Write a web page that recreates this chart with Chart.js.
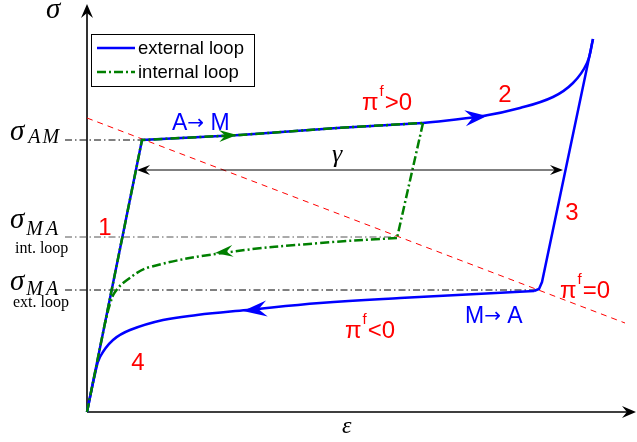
<!DOCTYPE html>
<html>
<head>
<meta charset="utf-8">
<script src="https://cdn.jsdelivr.net/npm/chart.js@4.4.1/dist/chart.umd.min.js"></script>
<style>
  html, body { margin: 0; padding: 0; background: #fff; }
</style>
</head>
<body>
<canvas id="loopChart" width="637" height="442"></canvas>
<script>
// strain (x) / stress (y) in arbitrary units

// elastic loading + A->M plateau, shared by both loops
var loadX = [0, 55, 153, 250, 336];
var loadY = [0, 272, 277, 284, 289];

// external loop
var hardenX = [336, 396, 433, 466, 486, 500, 506];
var hardenY = [289, 296, 304, 315, 329, 349, 373];
var unloadX = [506, 455, 452, 447];
var unloadY = [373, 130, 123, 121];
var returnX = [447, 313, 233, 160, 110, 76, 43, 26, 13, 8, 0];
var returnY = [121, 114, 109, 102, 97, 92, 82, 72, 55, 38, 0];

// internal loop
var dropX = [336, 310];
var dropY = [289, 174];
var innerX = [310, 233, 143, 63, 40, 28, 23, 18];
var innerY = [174, 169, 160, 145, 132, 120, 108, 89];

// pi^f = 0 line
var piZeroX = [0, 538];
var piZeroY = [294, 89];

// transformation stresses and where their guide lines stop
var levelNames = ["AM", "MA_int", "MA_ext"];
var levelY = [272, 175, 122];
var levelEnd = [55, 310, 451];

// gamma span
var gammaY = 242;
var gammaX = [50, 476];

var BLUE = "#0000ff";
var GREEN = "#007f00";
var greenDash = [9, 3, 2, 3];

function pts(xs, ys) {
  return xs.map(function (x, i) { return { x: x, y: ys[i] }; });
}

function line(label, xs, ys, color, width, dash, tension, order) {
  return {
    label: label,
    data: pts(xs, ys),
    showLine: true,
    borderColor: color,
    backgroundColor: color,
    borderWidth: width,
    borderDash: dash || [],
    tension: tension || 0,
    pointRadius: 0,
    clip: false,
    order: order
  };
}

var datasets = [
  line("internal loop", loadX, loadY, GREEN, 2.5, greenDash, 0, 0),
  line("", dropX, dropY, GREEN, 2.5, greenDash, 0, 0),
  line("", innerX, innerY, GREEN, 2.5, greenDash, 0.4, 0),
  line("external loop", loadX, loadY, BLUE, 2.5, null, 0, 1),
  line("", hardenX, hardenY, BLUE, 2.5, null, 0.4, 1),
  line("", unloadX, unloadY, BLUE, 2.5, null, 0, 1),
  line("", returnX, returnY, BLUE, 2.5, null, 0.4, 1),
  line("", piZeroX, piZeroY, "#ff0000", 1, [6, 5], 0, 2)
];
levelY.forEach(function (y, i) {
  var col = levelNames[i] === "MA_int" ? "#555555" : "#000000";
  datasets.push(line("", [-22, levelEnd[i]], [y, y], col, 1, [7, 3, 1.5, 3], 0, 3));
});

function arrowHead(ctx, x, y, ang, len, half, color) {
  ctx.save();
  ctx.translate(x, y);
  ctx.rotate(ang);
  ctx.beginPath();
  ctx.moveTo(0, 0);
  ctx.lineTo(-len, -half);
  ctx.lineTo(-len * 0.65, 0);
  ctx.lineTo(-len, half);
  ctx.closePath();
  ctx.fillStyle = color;
  ctx.fill();
  ctx.restore();
}

// draw a run of text pieces: [text, font, dx, dy]
function runs(ctx, x, y, color, parts) {
  ctx.fillStyle = color;
  ctx.textAlign = "left";
  ctx.textBaseline = "alphabetic";
  var cx = x;
  parts.forEach(function (p) {
    ctx.font = p[1];
    cx += p[2] || 0;
    ctx.fillText(p[0], cx, y + (p[3] || 0));
    cx += ctx.measureText(p[0]).width;
  });
}

var SANS = '"Liberation Sans", Arial, sans-serif';
var SERIF = '"Liberation Serif", "DejaVu Serif", serif';
var ARROW = '"DejaVu Sans", sans-serif';

var decor = {
  id: "decor",
  beforeDatasetsDraw: function (chart) {
    var ctx = chart.ctx, sx = chart.scales.x, sy = chart.scales.y;
    var ox = sx.getPixelForValue(0), oy = sy.getPixelForValue(0);
    var xEnd = sx.getPixelForValue(549), yEnd = sy.getPixelForValue(408);
    ctx.save();
    ctx.strokeStyle = "#000";
    ctx.lineWidth = 1.6;
    ctx.beginPath();
    ctx.moveTo(ox, oy); ctx.lineTo(xEnd - 6, oy);
    ctx.moveTo(ox, oy); ctx.lineTo(ox, yEnd + 6);
    ctx.stroke();
    arrowHead(ctx, xEnd, oy, 0, 14, 6, "#000");
    arrowHead(ctx, ox, yEnd, -Math.PI / 2, 14, 6, "#000");
    ctx.restore();
  },
  afterDatasetsDraw: function (chart) {
    var ctx = chart.ctx, sx = chart.scales.x, sy = chart.scales.y;
    function X(v) { return sx.getPixelForValue(v); }
    function Y(v) { return sy.getPixelForValue(v); }
    ctx.save();

    // flow arrows on the curves: [fromX, fromY, tipX, tipY, colour, len, half]
    [
      [380, 294, 400, 296, BLUE, 22, 8],
      [175, 103, 156, 101, BLUE, 24, 8],
      [130, 276, 150, 277, GREEN, 18, 6],
      [145, 161, 128, 159, GREEN, 18, 6]
    ].forEach(function (a) {
      var ang = Math.atan2(Y(a[3]) - Y(a[1]), X(a[2]) - X(a[0]));
      arrowHead(ctx, X(a[2]), Y(a[3]), ang, a[5], a[6], a[4]);
    });

    // gamma double arrow
    ctx.strokeStyle = "#000";
    ctx.lineWidth = 1;
    ctx.beginPath();
    ctx.moveTo(X(gammaX[0]) + 6, Y(gammaY));
    ctx.lineTo(X(gammaX[1]) - 6, Y(gammaY));
    ctx.stroke();
    arrowHead(ctx, X(gammaX[0]), Y(gammaY), Math.PI, 13, 5, "#000");
    arrowHead(ctx, X(gammaX[1]), Y(gammaY), 0, 13, 5, "#000");
    runs(ctx, X(245), Y(250), "#000", [["\u03b3", "italic 26px " + SERIF]]);

    // axis labels
    runs(ctx, X(-41), Y(394), "#000", [["\u03c3", "italic 29px " + SERIF]]);
    runs(ctx, X(255), Y(-21), "#000", [["\u03b5", "italic 24px " + SERIF]]);

    // stress level labels
    var sig = "italic 29px " + SERIF, sub = "italic 20px " + SERIF, small = "16px " + SERIF;
    runs(ctx, X(-77), Y(272), "#000", [["\u03c3", sig], ["A", sub, 4, 3], ["M", sub, 2, 3]]);
    runs(ctx, X(-77), Y(184), "#000", [["\u03c3", sig], ["M", sub, 2, 7], ["A", sub, 3, 7]]);
    runs(ctx, X(-72), Y(159), "#000", [["int. loop", small]]);
    runs(ctx, X(-77), Y(122), "#000", [["\u03c3", sig], ["M", sub, 2, 5], ["A", sub, 3, 5]]);
    runs(ctx, X(-74), Y(105), "#000", [["ext. loop", small]]);

    // red annotations
    var big = "24px " + SANS, sup = "15px " + SANS;
    ctx.textAlign = "center";
    ctx.textBaseline = "middle";
    ctx.fillStyle = "#ff0000";
    ctx.font = big;
    [["1", 18, 184], ["2", 418, 317], ["3", 485, 199], ["4", 51, 49]].forEach(function (t) {
      ctx.fillText(t[0], X(t[1]), Y(t[2]));
    });
    runs(ctx, X(275), Y(302), "#ff0000", [["\u03c0", big], ["f", sup, 1, -14], [">0", big, 1]]);
    runs(ctx, X(473), Y(114), "#ff0000", [["\u03c0", big], ["f", sup, 1, -14], ["=0", big, 1]]);
    runs(ctx, X(258), Y(74), "#ff0000", [["\u03c0", big], ["f", sup, 1, -14], ["<0", big, 1]]);

    // blue phase labels
    var lab = "23px " + SANS, arr = "20px " + ARROW;
    runs(ctx, X(85), Y(282), BLUE, [["A", lab], ["\u2192", arr, 0, -1], [" M", lab]]);
    runs(ctx, X(378), Y(89), BLUE, [["M", lab], ["\u2192", arr, 0, -1], [" A", lab]]);

    // legend box
    var lx = X(4), ly = Y(378), lw = X(167) - X(4), lh = Y(326) - Y(378);
    ctx.fillStyle = "#fff";
    ctx.fillRect(lx, ly, lw, lh);
    ctx.strokeStyle = "#000";
    ctx.lineWidth = 1;
    ctx.setLineDash([]);
    ctx.strokeRect(lx + 0.5, ly + 0.5, lw, lh);
    var entries = [[chart.data.datasets[3], ly + 14], [chart.data.datasets[0], ly + 38]];
    entries.forEach(function (e) {
      var ds = e[0];
      ctx.strokeStyle = ds.borderColor;
      ctx.lineWidth = 2.5;
      ctx.setLineDash(ds.borderDash);
      ctx.beginPath();
      ctx.moveTo(lx + 6, e[1]);
      ctx.lineTo(lx + 44, e[1]);
      ctx.stroke();
      ctx.setLineDash([]);
      ctx.fillStyle = "#000";
      ctx.font = "18.5px " + SANS;
      ctx.textAlign = "left";
      ctx.textBaseline = "middle";
      ctx.fillText(ds.label, lx + 47, e[1] + 1);
    });
    ctx.restore();
  }
};

var loopChart = new Chart(document.getElementById("loopChart"), {
  type: "scatter",
  data: { datasets: datasets },
  options: {
    responsive: false,
    animation: false,
    devicePixelRatio: 1,
    layout: { padding: { left: 87, right: 0, top: 2, bottom: 30 } },
    scales: {
      x: { type: "linear", min: 0, max: 550, display: false },
      y: { type: "linear", min: 0, max: 410, display: false }
    },
    plugins: {
      legend: { display: false },
      tooltip: { enabled: false }
    }
  },
  plugins: [decor]
});
</script>
</body>
</html>
